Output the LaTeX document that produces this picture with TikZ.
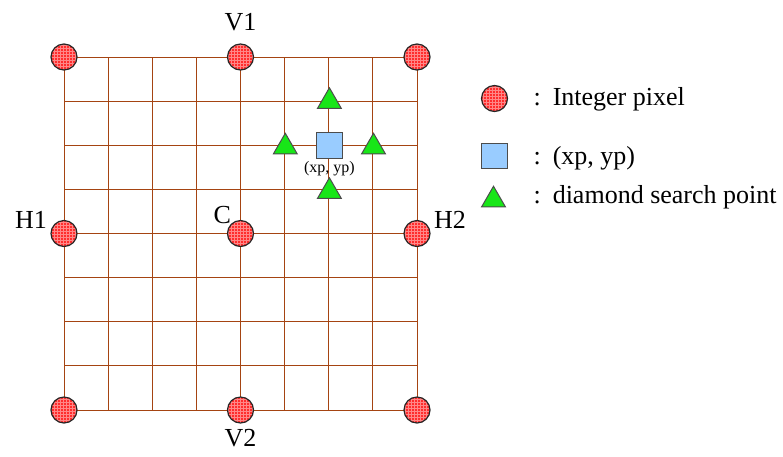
\documentclass[tikz,border=0pt]{standalone}
\usepackage{fontspec}
\setmainfont{Liberation Serif}
\usetikzlibrary{shapes.geometric, patterns}
\definecolor{gridbrown}{RGB}{165,68,18}
\definecolor{pixred}{RGB}{255,45,45}
\definecolor{pixpink}{RGB}{255,135,135}
\definecolor{sqblue}{RGB}{153,204,255}
\definecolor{trigreen}{RGB}{24,230,24}

\begin{document}
\begin{tikzpicture}[x=1pt, y=-1pt,
  every node/.style={font=\fontsize{26}{30}\selectfont},
  gridline/.style={gridbrown, line width=1pt},
  pix/.style={circle, draw=black!85, line width=1.2pt, minimum size=26pt, inner sep=0pt,
    preaction={fill=pixred}, pattern=grid, pattern color=pixpink},
  subpel/.style={rectangle, draw=black!70, line width=1pt, fill=sqblue, minimum size=25.5pt, inner sep=0pt},
  diapt/.style={regular polygon, regular polygon sides=3, draw=black!70, line width=1pt,
    fill=trigreen, minimum size=27.5pt, inner sep=0pt},
  legtext/.style={anchor=base west}]
  \useasboundingbox (0,0) rectangle (783,456);

  % the sample grid
  \foreach \k in {0,...,8} {
    \draw[gridline] (64+44.125*\k,57) -- (64+44.125*\k,410);
    \draw[gridline] (64,57+44.125*\k) -- (417,57+44.125*\k);
  }

  % integer pixels
  \node[pix] (TL) at (64,57) {};
  \node[pix, label={[label distance=9pt]above:V1}] (V1) at (240.5,57) {};
  \node[pix] (TR) at (417,57) {};
  \node[pix, label={[yshift=14pt]left:H1}] (H1) at (64,233.5) {};
  \node[pix, label={[label distance=-5pt]above left:C}] (C) at (240.5,233.5) {};
  \node[pix, label={[yshift=14pt]right:H2}] (H2) at (417,233.5) {};
  \node[pix] (BL) at (64,410) {};
  \node[pix, label={[label distance=2pt]below:V2}] (V2) at (240.5,410) {};
  \node[pix] (BR) at (417,410) {};

  % sub-pixel position and its diamond neighbours
  \node[subpel, label={[font=\fontsize{16}{18}\selectfont, label distance=-1pt]below:(xp, yp)}] (P) at (329.4,145.5) {};
  \node[diapt] (up) at (329.4,101.5) {};
  \node[diapt] (lt) at (285.3,147) {};
  \node[diapt] (rt) at (373.5,147) {};
  \node[diapt] (dn) at (329.4,191.5) {};

  % legend
  \node[pix] (legpix) at (494.5,98.5) {};
  \node[subpel] (legsq) at (494.5,155.8) {};
  \node[diapt] (legtri) at (493.5,200) {};
  \node[legtext] (legpixtxt) at (530,105) {:\hspace{12pt}Integer pixel};
  \node[legtext] (legsqtxt) at (530,164.5) {:\hspace{12pt}(xp, yp)};
  \node[legtext] (legtritxt) at (530,203.5) {:\hspace{12pt}diamond search point};
\end{tikzpicture}
\end{document}
